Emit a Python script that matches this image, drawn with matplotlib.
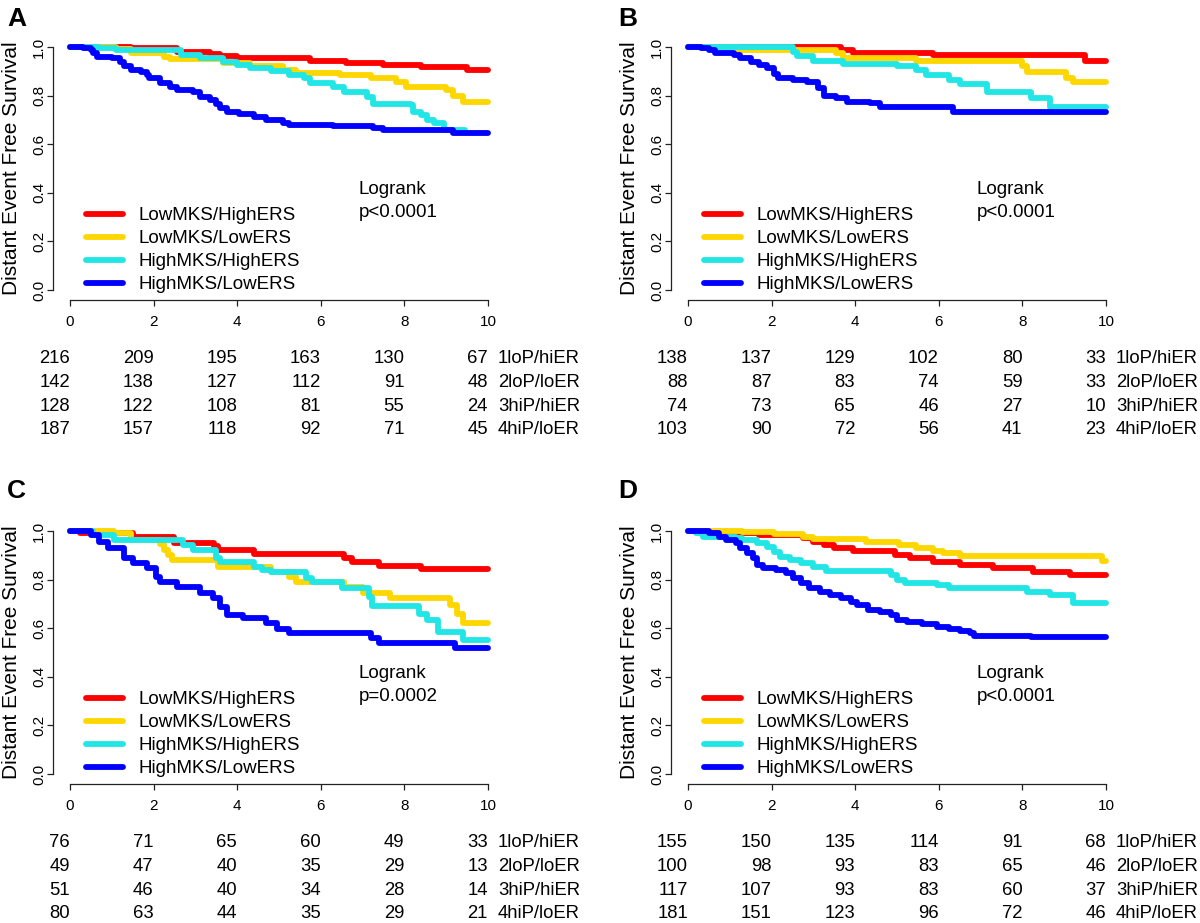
import matplotlib
matplotlib.use("Agg")
import matplotlib.pyplot as plt

plt.rcParams['font.family'] = ['Liberation Sans', 'DejaVu Sans']

groups = ["LowMKS/HighERS", "LowMKS/LowERS", "HighMKS/HighERS", "HighMKS/LowERS"]
row_labels = ["1loP/hiER", "2loP/loER", "3hiP/hiER", "4hiP/loER"]
colors = ["#ff0000", "#ffd700", "#22e6e6", "#0000ff"]
risk_times = [0, 2, 4, 6, 8, 10]

# panel A
a_red_t = [0, 1.45, 2.55, 3.35, 3.6, 4.0, 5.75, 6.6, 7.5, 8.4, 9.5, 10]
a_red_s = [1, 0.995, 0.981, 0.972, 0.963, 0.953, 0.942, 0.933, 0.926, 0.916, 0.904, 0.904]
a_yel_t = [0, 1.1, 1.45, 2.25, 2.4, 3.65, 4.3, 5.1, 5.4, 6.45, 7.2, 7.8, 8.05, 9.0, 9.17, 9.4, 10]
a_yel_s = [1, 0.99, 0.977, 0.96, 0.95, 0.935, 0.92, 0.905, 0.892, 0.885, 0.871, 0.857, 0.837, 0.823, 0.798, 0.773, 0.773]
a_cy_t = [0, 0.7, 1.1, 2.65, 3.1, 3.65, 4.0, 4.3, 4.8, 5.25, 5.6, 5.75, 6.3, 6.55, 7.1, 7.25, 8.15, 8.2, 8.4, 8.55, 8.7, 8.95, 9.45]
a_cy_s = [1, 0.995, 0.988, 0.967, 0.953, 0.94, 0.926, 0.912, 0.9, 0.885, 0.871, 0.85, 0.837, 0.816, 0.795, 0.767, 0.76, 0.733, 0.72, 0.70, 0.686, 0.66, 0.66]
a_bl_t = [0, 0.3, 0.5, 0.55, 0.65, 1.0, 1.2, 1.3, 1.45, 1.7, 1.85, 1.9, 2.15, 2.4, 2.55, 2.95, 3.1, 3.35, 3.5, 3.6,
          3.75, 4.05, 4.4, 4.7, 5.1, 5.25, 6.3, 7.25, 7.5, 9.17, 10]
a_bl_s = [1, 0.995, 0.988, 0.974, 0.96, 0.953, 0.94, 0.92, 0.905, 0.898, 0.885, 0.871, 0.85, 0.837, 0.823, 0.816, 0.795, 0.78, 0.767, 0.748,
          0.733, 0.724, 0.713, 0.70, 0.686, 0.68, 0.673, 0.665, 0.658, 0.645, 0.645]
a_risk = [[216, 209, 195, 163, 130, 67],
          [142, 138, 127, 112, 91, 48],
          [128, 122, 108, 81, 55, 24],
          [187, 157, 118, 92, 71, 45]]

# panel B
b_red_t = [0, 3.65, 3.95, 5.85, 9.5, 10]
b_red_s = [1, 0.988, 0.977, 0.967, 0.942, 0.942]
b_yel_t = [0, 1.2, 3.55, 3.7, 5.45, 8.0, 8.1, 9.05, 9.2, 10]
b_yel_s = [1, 0.988, 0.974, 0.955, 0.944, 0.92, 0.896, 0.871, 0.855, 0.855]
b_cy_t = [0, 2.5, 2.6, 3.0, 3.7, 5.0, 5.45, 5.7, 6.25, 6.5, 7.15, 8.2, 8.65, 10]
b_cy_s = [1, 0.98, 0.963, 0.944, 0.929, 0.922, 0.905, 0.885, 0.864, 0.848, 0.816, 0.789, 0.754, 0.754]
b_bl_t = [0, 0.3, 0.5, 0.65, 1.1, 1.25, 1.5, 1.7, 1.9, 2.05, 2.15, 2.5, 2.85, 3.1, 3.25, 3.55, 3.8, 4.35, 4.6, 6.35, 10]
b_bl_s = [1, 0.995, 0.988, 0.977, 0.967, 0.953, 0.94, 0.926, 0.912, 0.89, 0.871, 0.864, 0.857, 0.83, 0.80, 0.789, 0.775, 0.768, 0.752, 0.734, 0.734]
b_risk = [[138, 137, 129, 102, 80, 33],
          [88, 87, 83, 74, 59, 33],
          [74, 73, 65, 46, 27, 10],
          [103, 90, 72, 56, 41, 23]]

# panel C
c_red_t = [0, 0.25, 1.5, 2.5, 3.45, 3.55, 4.4, 6.55, 6.75, 7.4, 8.4, 10]
c_red_s = [1, 0.99, 0.975, 0.95, 0.94, 0.922, 0.905, 0.888, 0.874, 0.857, 0.842, 0.842]
c_yel_t = [0, 1.05, 1.45, 2.15, 2.25, 2.35, 2.45, 3.55, 4.8, 5.25, 5.4, 6.55, 7.0, 7.65, 9.1, 9.25, 9.4, 10]
c_yel_s = [1, 0.99, 0.965, 0.945, 0.92, 0.90, 0.88, 0.853, 0.833, 0.812, 0.79, 0.77, 0.743, 0.726, 0.695, 0.66, 0.62, 0.62]
c_cy_t = [0, 0.55, 1.05, 2.7, 2.95, 3.5, 3.6, 4.4, 4.6, 4.8, 5.65, 5.8, 6.5, 7.15, 7.22, 8.35, 8.55, 8.8, 9.4, 10]
c_cy_s = [1, 0.983, 0.963, 0.942, 0.922, 0.888, 0.874, 0.853, 0.84, 0.833, 0.805, 0.79, 0.764, 0.73, 0.69, 0.66, 0.634, 0.585, 0.55, 0.55]
c_bl_t = [0, 0.5, 0.7, 0.9, 1.3, 1.5, 1.85, 2.05, 2.15, 2.55, 3.1, 3.43, 3.6, 3.75, 4.15, 4.7, 4.95, 5.25, 7.2, 7.4, 9.2, 10]
c_bl_s = [1, 0.983, 0.956, 0.93, 0.887, 0.867, 0.846, 0.81, 0.79, 0.77, 0.743, 0.723, 0.689, 0.654, 0.64, 0.62, 0.595, 0.579, 0.558, 0.54, 0.517, 0.517]
c_risk = [[76, 71, 65, 60, 49, 33],
          [49, 47, 40, 35, 29, 13],
          [51, 46, 40, 34, 28, 14],
          [80, 63, 44, 35, 29, 21]]

# panel D
d_red_t = [0, 0.4, 1.7, 2.75, 3.0, 3.25, 3.5, 3.95, 4.95, 5.3, 5.85, 6.5, 7.3, 8.25, 9.15, 10]
d_red_s = [1, 0.99, 0.984, 0.97, 0.956, 0.942, 0.929, 0.918, 0.901, 0.888, 0.874, 0.86, 0.849, 0.833, 0.819, 0.819]
d_yel_t = [0, 1.3, 2.05, 2.75, 3.0, 4.25, 5.05, 5.45, 5.85, 6.1, 6.5, 9.9, 10]
d_yel_s = [1, 0.995, 0.986, 0.977, 0.967, 0.956, 0.942, 0.929, 0.918, 0.908, 0.898, 0.878, 0.878]
d_cy_t = [0, 0.2, 0.35, 1.15, 1.3, 1.65, 1.9, 2.05, 2.2, 2.45, 2.7, 3.0, 3.3, 4.85, 5.0, 5.2, 5.95, 6.25, 8.1, 8.65, 9.2, 10]
d_cy_s = [1, 0.99, 0.977, 0.97, 0.963, 0.95, 0.935, 0.915, 0.894, 0.88, 0.867, 0.853, 0.835, 0.819, 0.798, 0.785, 0.778, 0.767, 0.75, 0.737, 0.702, 0.702]
d_bl_t = [0, 0.5, 0.75, 0.9, 1.15, 1.25, 1.4, 1.55, 1.65, 1.8, 2.1, 2.35, 2.5, 2.7, 2.9, 3.15, 3.4, 3.65, 3.9, 4.05,
          4.3, 4.6, 4.85, 5.0, 5.25, 5.6, 5.95, 6.25, 6.5, 6.75, 6.85, 8.2, 10]
d_bl_s = [1, 0.99, 0.977, 0.963, 0.95, 0.929, 0.908, 0.888, 0.86, 0.849, 0.84, 0.826, 0.805, 0.785, 0.764, 0.75, 0.737, 0.726, 0.709, 0.695,
          0.675, 0.665, 0.654, 0.634, 0.624, 0.616, 0.606, 0.597, 0.588, 0.579, 0.567, 0.562, 0.562]
d_risk = [[155, 150, 135, 114, 91, 68],
          [100, 98, 93, 83, 65, 46],
          [117, 107, 93, 83, 60, 37],
          [181, 151, 123, 96, 72, 46]]

panels = [
    ("A", [0.0444, 0.6753, 0.3762, 0.2843], (0.006, 0.979),
     [(a_red_t, a_red_s), (a_yel_t, a_yel_s), (a_cy_t, a_cy_s), (a_bl_t, a_bl_s)], a_risk, "p<0.0001"),
    ("B", [0.5594, 0.6753, 0.3762, 0.2843], (0.515, 0.979),
     [(b_red_t, b_red_s), (b_yel_t, b_yel_s), (b_cy_t, b_cy_s), (b_bl_t, b_bl_s)], b_risk, "p<0.0001"),
    ("C", [0.0444, 0.1509, 0.3762, 0.2843], (0.006, 0.468),
     [(c_red_t, c_red_s), (c_yel_t, c_yel_s), (c_cy_t, c_cy_s), (c_bl_t, c_bl_s)], c_risk, "p=0.0002"),
    ("D", [0.5594, 0.1509, 0.3762, 0.2843], (0.515, 0.468),
     [(d_red_t, d_red_s), (d_yel_t, d_yel_s), (d_cy_t, d_cy_s), (d_bl_t, d_bl_s)], d_risk, "p<0.0001"),
]

fig = plt.figure(figsize=(12, 9.23), dpi=100)

for letter, rect, lpos, curves, risk, pval in panels:
    ax = fig.add_axes(rect)
    for (t, s), col, name in zip(curves, colors, groups):
        ax.step(t, s, where='post', color=col, lw=4.2, label=name, solid_capstyle='round')
    ax.set_xlim(-0.4, 10.4)
    ax.set_ylim(-0.04, 1.04)
    for side in ['top', 'right']:
        ax.spines[side].set_visible(False)
    ax.spines['left'].set_bounds(0, 1)
    ax.spines['bottom'].set_bounds(0, 10)
    for side in ['left', 'bottom']:
        ax.spines[side].set_linewidth(0.9)
        ax.spines[side].set_color('#222222')
    ax.set_xticks(risk_times)
    ax.set_yticks([0, 0.2, 0.4, 0.6, 0.8, 1.0])
    ax.set_yticklabels(['0.0', '0.2', '0.4', '0.6', '0.8', '1.0'])
    ax.tick_params(axis='both', length=4.3, width=0.9, color='#222222', labelsize=11)
    ax.tick_params(axis='x', pad=6.5)
    ax.tick_params(axis='y', pad=1, labelrotation=90)
    for lab in ax.get_yticklabels():
        lab.set_va('center')
    ax.set_ylabel('Distant Event Free Survival', fontsize=15)
    ax.yaxis.set_label_coords(-0.071, 0.5)

    ax.legend(loc='lower left', bbox_to_anchor=(0.072, 0.025), frameon=False, fontsize=13.5,
              handlelength=2.0, handletextpad=0.8, labelspacing=0.31, borderpad=0, borderaxespad=0)
    ax.text(6.9, 0.415, 'Logrank', fontsize=13.5, va='center')
    ax.text(6.9, 0.318, pval, fontsize=13.5, va='center')

    # numbers at risk below the axis
    for i, row in enumerate(risk):
        dy = -(59 + 23.7 * i)
        for x, n in zip(risk_times, row):
            ax.annotate(str(n), xy=(x, 0), xycoords=('data', 'axes fraction'), xytext=(0, dy),
                        textcoords='offset pixels', ha='right', va='center', fontsize=13.3,
                        annotation_clip=False)
        ax.annotate(row_labels[i], xy=(10, 0), xycoords=('data', 'axes fraction'), xytext=(10, dy),
                    textcoords='offset pixels', ha='left', va='center', fontsize=13.3,
                    annotation_clip=False)

    fig.text(lpos[0], lpos[1], letter, fontsize=19, fontweight='bold', va='center')

fig.savefig('out.png', dpi=100)
